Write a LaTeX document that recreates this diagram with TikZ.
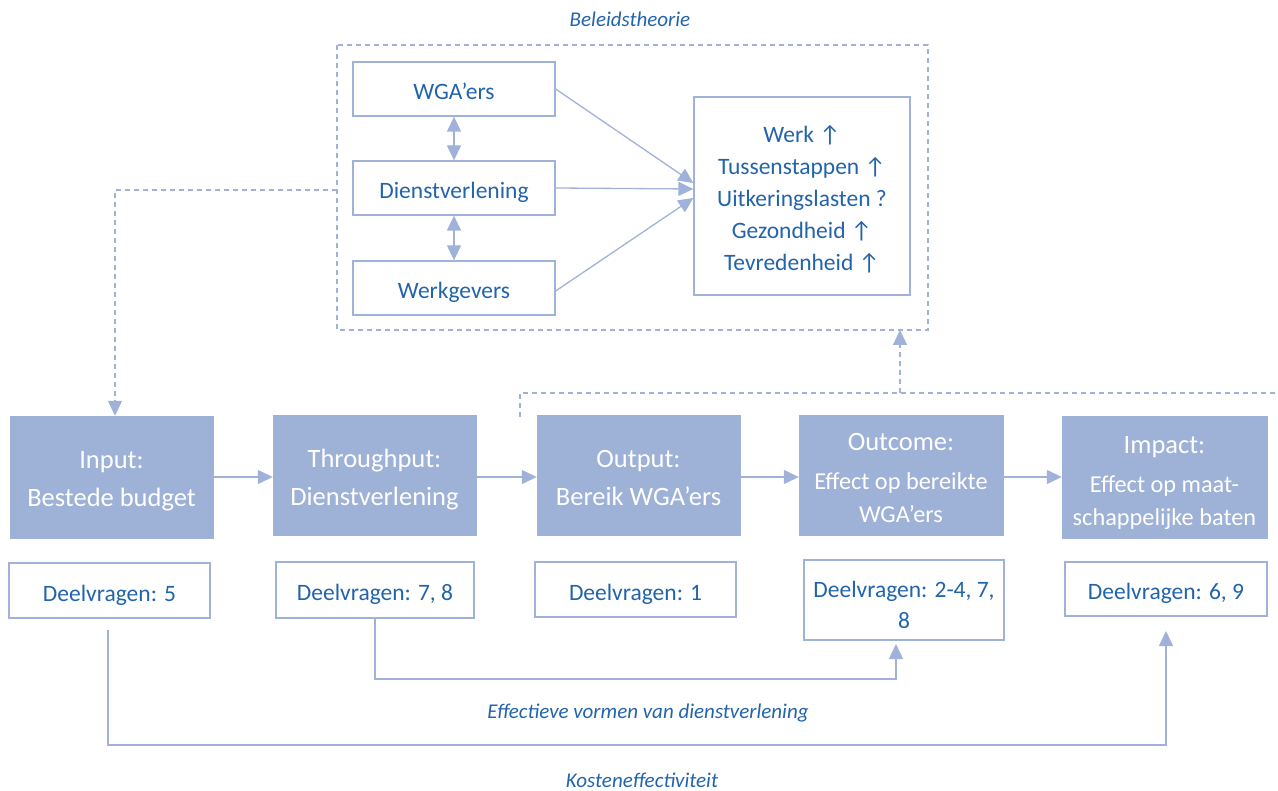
\documentclass[tikz,border=0pt]{standalone}
\usepackage{fontspec}
\setmainfont{Carlito}
\usetikzlibrary{arrows.meta}
\definecolor{lineblue}{HTML}{A0B2D9}
\definecolor{fillblue}{HTML}{9EB1D7}
\definecolor{textblue}{HTML}{2264AC}
\tikzset{
  whitebox/.style={draw=lineblue, line width=1.3pt, fill=white, text=textblue, align=center, inner sep=0pt,
    font=\fontsize{23.5}{32}\selectfont, text height=21pt, text depth=0pt},
  plainbox/.style={draw=lineblue, line width=1.3pt, fill=white, inner sep=0pt},
  bluetext/.style={text=textblue, align=center, inner sep=0pt, anchor=base, font=\fontsize{23.5}{32}\selectfont},
  stagebox/.style={fill=fillblue, draw=fillblue, inner sep=0pt},
  conn/.style={draw=lineblue, line width=1.3pt},
  arr/.style={-{Triangle[width=14pt,length=15pt]}},
  darr/.style={{Triangle[width=14pt,length=15pt]}-{Triangle[width=14pt,length=15pt]}},
  dashline/.style={dash pattern=on 5pt off 4pt},
  lbl/.style={text=textblue, inner sep=0pt, anchor=base, font=\fontsize{21}{24}\selectfont\itshape},
  ttl/.style={text=white, inner sep=0pt, anchor=base, font=\fontsize{26.5}{30}\selectfont},
  sub/.style={text=white, inner sep=0pt, anchor=base, align=center, font=\fontsize{26.5}{32.5}\selectfont},
  subsmall/.style={sub, font=\fontsize{24.3}{32.5}\selectfont},
}
\begin{document}
\begin{tikzpicture}[x=1pt,y=-1pt]
\useasboundingbox (0,0) rectangle (1278,791);

% Beleidstheorie frame
\node[lbl] (belabel) at (630,27) {Beleidstheorie};
\draw[conn, dashline] (337,45) rectangle (928,330);
\coordinate (frameL) at (337,190);
\coordinate (frameB) at (900,330);

\node[whitebox, minimum width=202pt, minimum height=54pt] (wga) at (454,89) {WGA’ers};
\node[whitebox, minimum width=202pt, minimum height=54pt] (dienst) at (454,188) {Dienstverlening};
\node[whitebox, minimum width=202pt, minimum height=54pt] (werkg) at (454,288) {Werkgevers};
\node[plainbox, minimum width=216pt, minimum height=198pt] (result) at (802,196) {};
\node[bluetext] (resulttext) at (802,271)
  {Werk ↑\\Tussenstappen ↑\\Uitkeringslasten ?\\Gezondheid ↑\\Tevredenheid ↑};

\draw[conn, darr] (wga.south) -- (dienst.north);
\draw[conn, darr] (dienst.south) -- (werkg.north);
\draw[conn, arr] (wga.east |- 0,89) -- (result.west |- 0,183);
\draw[conn, arr] (dienst.east) -- (result.west |- 0,189);
\draw[conn, arr] (werkg.east |- 0,291) -- (result.west |- 0,198);

% stage boxes
\node[stagebox, minimum width=203pt, minimum height=122pt] (input) at (111.5,477) {};
\node[ttl] (inputT) at (111.5,468.5) {Input:};
\node[sub] (inputS) at (111.5,507) {Bestede budget};

\node[stagebox, minimum width=203pt, minimum height=120pt] (through) at (374.5,475) {};
\node[ttl] (throughT) at (374.5,468) {Throughput:};
\node[sub] (throughS) at (374.5,506) {Dienstverlening};

\node[stagebox, minimum width=203pt, minimum height=120pt] (output) at (638.5,475) {};
\node[ttl] (outputT) at (638.5,468) {Output:};
\node[sub] (outputS) at (638.5,506) {Bereik WGA’ers};

\node[stagebox, minimum width=204pt, minimum height=120pt] (outcome) at (901,475) {};
\node[ttl] (outcomeT) at (901,451) {Outcome:};
\node[subsmall] (outcomeS) at (901,522) {Effect op bereikte\\WGA’ers};

\node[stagebox, minimum width=205pt, minimum height=122pt] (impact) at (1164.5,477) {};
\node[ttl] (impactT) at (1164.5,454) {Impact:};
\node[subsmall] (impactS) at (1164.5,525.5) {Effect op maat-\\schappelijke baten};

\draw[conn, arr] (input.east |- 0,477) -- (through.west |- 0,477);
\draw[conn, arr] (through.east |- 0,477) -- (output.west |- 0,477);
\draw[conn, arr] (output.east |- 0,477) -- (outcome.west |- 0,477);
\draw[conn, arr] (outcome.east |- 0,477) -- (impact.west |- 0,477);

% dashed links
\draw[conn, dashline, arr] (frameL) -- (115,190) -- (input.north -| 115,0);
\coordinate (fbstart) at (520,417);
\coordinate (fbend) at (1278,393);
\draw[conn, dashline] (fbstart) -- (520,393) -- (fbend);
\draw[conn, dashline, arr] (900,393) -- (frameB);

% Deelvragen boxes
\node[whitebox, minimum width=201pt, minimum height=55pt] (d1) at (109.5,590.5) {Deelvragen: 5};
\node[whitebox, minimum width=198pt, minimum height=56pt] (d2) at (375,590) {Deelvragen: 7, 8};
\node[whitebox, minimum width=201pt, minimum height=55pt] (d3) at (635.5,589.5) {Deelvragen: 1};
\node[plainbox, minimum width=200pt, minimum height=80pt] (d4) at (904,600) {};
\node[bluetext, font=\fontsize{23.5}{30.5}\selectfont] (d4text) at (904,628) {Deelvragen: 2-4, 7,\\8};
\node[whitebox, minimum width=202pt, minimum height=54pt] (d5) at (1166,589) {Deelvragen: 6, 9};

% bottom connectors
\draw[conn, arr] (d2.south) -- (375,679) -- (896,679) -- (896,644);
\node[lbl] (efflabel) at (648,718.5) {Effectieve vormen van dienstverlening};
\draw[conn, arr] (108,630) -- (108,745) -- (1166,745) -- (d5.south |- 0,631);
\node[lbl] (kostlabel) at (642,787) {Kosteneffectiviteit};
\end{tikzpicture}
\end{document}
